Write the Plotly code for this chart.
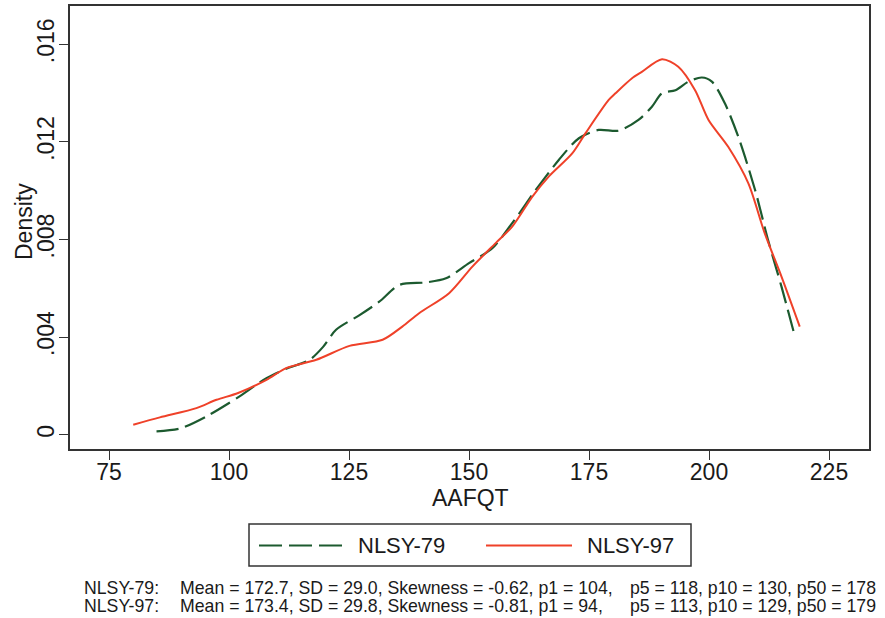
import plotly.graph_objects as go

# NLSY-79 kernel density (dashed green)
x79 = [84.9, 89.75, 95.3, 102.2, 107.8, 111.9, 116.8, 119.6, 122.3, 127.2, 131.3, 135.5,
       141.0, 145.2, 150.0, 154.85, 159.0, 163.9, 168.7, 172.9, 177.0, 181.2, 185.3,
       188.1, 190.2, 193.0, 195.7, 198.5, 200.6, 203.3, 206.1, 209.6, 212.3, 215.1, 217.9]
y79 = [0.00014, 0.00025, 0.00075, 0.00157, 0.00232, 0.0027, 0.00307, 0.0036, 0.0043, 0.0049,
       0.00545, 0.00614, 0.00624, 0.00641, 0.00703, 0.00764, 0.00867, 0.01003, 0.01126,
       0.01215, 0.01249, 0.01246, 0.0129, 0.01344, 0.01399, 0.01412, 0.01447, 0.01464,
       0.01447, 0.01358, 0.01221, 0.01003, 0.00798, 0.00607, 0.00402]

# NLSY-97 kernel density (solid red)
x97 = [80.05, 85.6, 93.2, 97.4, 101.9, 107.8, 111.9, 118.2, 125.1, 132.0, 136.1, 139.6,
       145.85, 150.7, 155.55, 159.0, 163.2, 166.6, 171.5, 174.25, 179.1, 180.5, 183.9,
       186.0, 190.2, 193.6, 197.1, 199.9, 204.0, 208.2, 211.6, 215.1, 218.9]
y97 = [0.00041, 0.00071, 0.00109, 0.00143, 0.00171, 0.00225, 0.00273, 0.00307, 0.00364,
       0.00389, 0.00443, 0.00498, 0.0058, 0.00689, 0.00785, 0.00853, 0.00976, 0.01058,
       0.01153, 0.01235, 0.01372, 0.01399, 0.0146, 0.01487, 0.01539, 0.01508, 0.01412,
       0.0129, 0.0118, 0.0103, 0.00826, 0.00648, 0.00443]

xticks = [75, 100, 125, 150, 175, 200, 225]
yticks = [0, 0.004, 0.008, 0.012, 0.016]
yticktext = ["0", ".004", ".008", ".012", ".016"]

series_names = ["NLSY-79", "NLSY-97"]
note_labels = ["NLSY-79:", "NLSY-97:"]
note_part1 = ["Mean = 172.7, SD = 29.0, Skewness = -0.62, p1 = 104,",
              "Mean = 173.4, SD = 29.8, Skewness = -0.81, p1 = 94,"]
note_part2 = ["p5 = 118, p10 = 130, p50 = 178",
              "p5 = 113, p10 = 129, p50 = 179"]

GREEN = "#1c5a2f"
RED = "#ef4129"
FONT = "Liberation Sans, Arial, sans-serif"
TXT = "#1a1a1a"
AX = "#333333"

fig = go.Figure()
fig.add_trace(go.Scatter(x=x79, y=y79, mode="lines", name=series_names[0], showlegend=False,
                         line=dict(color=GREEN, width=2.2, dash="22px,7px", shape="spline", smoothing=0.8)))
fig.add_trace(go.Scatter(x=x97, y=y97, mode="lines", name=series_names[1], showlegend=False,
                         line=dict(color=RED, width=2, shape="spline", smoothing=0.8)))

L, R, T, B = 70, 16, 6, 169
W, H = 885, 618
pw, ph = W - L - R, H - T - B

def px(xp):
    return (xp - L) / pw

def py(yp):
    return (H - B - yp) / ph

fig.update_layout(
    width=W, height=H,
    margin=dict(l=L, r=R, t=T, b=B, autoexpand=False),
    paper_bgcolor="white", plot_bgcolor="white",
    font=dict(family=FONT, color=TXT, size=23),
    showlegend=False,
    xaxis=dict(range=[66.875, 233.33], tickvals=xticks, ticks="outside", ticklen=9, tickwidth=1.3,
               tickcolor=AX, showline=True, linecolor=AX, linewidth=1.6, mirror=True, automargin=False,
               showgrid=False, zeroline=False, tickfont=dict(size=23, color=TXT),
               ticklabelstandoff=-7),
    yaxis=dict(range=[-0.000586, 0.01757], tickvals=yticks, ticktext=yticktext, tickangle=-90,
               ticks="outside", ticklen=9, tickwidth=1.3, tickcolor=AX, showline=True, automargin=False,
               linecolor=AX, linewidth=1.6, mirror=True, showgrid=False, zeroline=False,
               tickfont=dict(size=23, color=TXT), ticklabelstandoff=-4),
)

# axis titles
fig.add_annotation(text="Density", xref="paper", yref="paper", x=px(24), y=py(222),
                   textangle=-90, showarrow=False, xanchor="center", yanchor="middle",
                   font=dict(size=23, color=TXT))
fig.add_annotation(text="AAFQT", xref="paper", yref="paper", x=px(470), y=py(498),
                   showarrow=False, xanchor="center", yanchor="middle",
                   font=dict(size=23, color=TXT))

# legend (drawn manually to match long line samples)
fig.add_shape(type="rect", xref="paper", yref="paper", x0=px(249), x1=px(691), y0=py(566), y1=py(524),
              line=dict(color=AX, width=1.5), fillcolor="white")
fig.add_shape(type="line", xref="paper", yref="paper", x0=px(259), x1=px(343), y0=py(545.5), y1=py(545.5),
              line=dict(color=GREEN, width=2.2, dash="23px,7px"))
fig.add_shape(type="line", xref="paper", yref="paper", x0=px(486), x1=px(572), y0=py(545.5), y1=py(545.5),
              line=dict(color=RED, width=2))
fig.add_annotation(text=series_names[0], xref="paper", yref="paper", x=px(356), y=py(545),
                   showarrow=False, xanchor="left", yanchor="middle", font=dict(size=22, color=TXT))
fig.add_annotation(text=series_names[1], xref="paper", yref="paper", x=px(585), y=py(545),
                   showarrow=False, xanchor="left", yanchor="middle", font=dict(size=22, color=TXT))

# footnote
for i, yy in enumerate([587.7, 606]):
    for txt, xx in [(note_labels[i], 82), (note_part1[i], 178), (note_part2[i], 628)]:
        fig.add_annotation(text=txt, xref="paper", yref="paper", x=px(xx), y=py(yy),
                           showarrow=False, xanchor="left", yanchor="middle",
                           font=dict(size=17.7, color=TXT))

fig.write_html("out.html", config={"displayModeBar": False},
               post_script="document.body.style.margin='0';document.body.style.overflow='hidden';")
